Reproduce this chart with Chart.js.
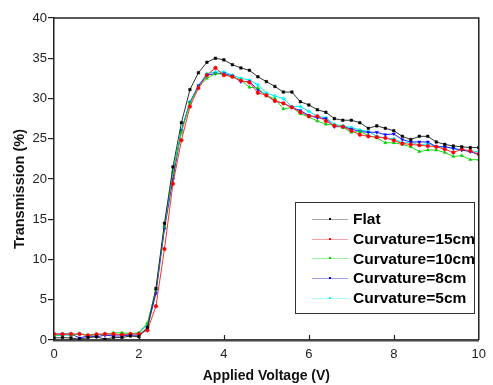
<!DOCTYPE html>
<html>
<head>
<meta charset="utf-8">
<script src="https://cdn.jsdelivr.net/npm/chart.js@4"></script>
<style>
  html, body { margin: 0; padding: 0; background: #fff; }
  #wrap { width: 493px; height: 385px; }
</style>
</head>
<body>
<div id="wrap"><canvas id="transChart" width="493" height="385"></canvas></div>
<script>
const voltage = [0, 0.2, 0.4, 0.6, 0.8, 1.0, 1.2, 1.4, 1.6, 1.8, 2.0, 2.2, 2.4, 2.6, 2.8, 3.0, 3.2, 3.4, 3.6, 3.8,
  4.0, 4.2, 4.4, 4.6, 4.8, 5.0, 5.2, 5.4, 5.6, 5.8, 6.0, 6.2, 6.4, 6.6, 6.8, 7.0, 7.2, 7.4, 7.6, 7.8,
  8.0, 8.2, 8.4, 8.6, 8.8, 9.0, 9.2, 9.4, 9.6, 9.8, 10.0];

const flat = [0.25, 0.3, 0.25, 0.1, 0.3, 0.4, 0.1, 0.3, 0.3, 0.5, 0.4, 1.6, 6.4, 14.5, 21.5, 27.0, 31.1, 33.2, 34.5, 35.0,
  34.8, 34.2, 33.8, 33.5, 32.7, 32.1, 31.5, 30.8, 30.8, 29.6, 29.2, 28.6, 28.3, 27.5, 27.3, 27.3, 27.0, 26.3, 26.6, 26.3,
  26.0, 25.3, 24.9, 25.3, 25.3, 24.6, 24.3, 24.1, 24.0, 23.9, 23.9];

const curv15 = [0.75, 0.7, 0.75, 0.75, 0.55, 0.7, 0.75, 0.75, 0.65, 0.75, 0.75, 1.2, 4.2, 11.3, 19.4, 24.8, 29.0, 31.3, 32.9, 33.8,
  32.9, 32.7, 32.2, 32.0, 30.7, 30.4, 29.7, 29.4, 28.9, 28.3, 27.8, 27.8, 27.2, 26.6, 26.5, 26.0, 25.5, 25.3, 25.2, 25.1,
  24.8, 24.4, 24.3, 24.2, 24.1, 24.0, 23.7, 23.3, 23.7, 23.5, 23.1];

const curv10 = [0.5, 0.8, 0.6, 0.75, 0.6, 0.75, 0.7, 0.9, 0.9, 0.8, 0.9, 2.1, 6.3, 14.2, 20.8, 25.8, 29.4, 31.4, 32.5, 33.1,
  33.0, 32.7, 32.3, 31.4, 31.3, 30.3, 30.0, 28.7, 28.9, 28.1, 27.7, 27.2, 26.8, 26.7, 26.4, 25.8, 25.9, 25.4, 25.1, 24.5,
  24.5, 24.3, 24.0, 23.4, 23.6, 23.6, 23.3, 22.8, 22.9, 22.4, 22.4];

const curv8 = [0.75, 0.75, 0.75, 0.25, 0.5, 0.4, 0.6, 0.5, 0.5, 0.6, 0.6, 1.5, 5.8, 13.8, 20.0, 26.0, 29.5, 31.6, 32.9, 33.1,
  33.1, 32.8, 32.1, 32.1, 31.1, 30.4, 29.7, 29.4, 28.9, 28.5, 27.9, 27.6, 27.5, 26.5, 26.5, 26.2, 25.9, 25.8, 25.8, 25.5,
  25.6, 24.9, 24.6, 24.6, 24.6, 24.0, 24.0, 23.8, 23.6, 23.4, 23.0];

const curv5 = [0.5, 0.6, 0.6, 0.8, 0.6, 0.6, 0.8, 0.65, 0.75, 0.75, 0.8, 2.0, 6.2, 14.0, 21.0, 26.1, 29.6, 31.5, 33.1, 33.3,
  33.3, 32.9, 32.5, 32.3, 31.7, 30.7, 30.3, 30.0, 29.0, 29.0, 28.4, 27.8, 27.6, 26.8, 26.6, 26.4, 26.1, 25.9, 25.3, 25.1,
  25.0, 24.5, 24.6, 24.2, 24.4, 24.0, 24.0, 23.8, 23.6, 23.5, 23.4];

const seriesNames = ['Flat', 'Curvature=15cm', 'Curvature=10cm', 'Curvature=8cm', 'Curvature=5cm'];
const seriesValues = [flat, curv15, curv10, curv8, curv5];
const xTicks = [0, 2, 4, 6, 8, 10];

const lineColors = ['#333333', '#ff3030', '#22dd22', '#2020ff', '#00e0f0'];
const markColors = ['#000000', '#ff0000', '#00cc00', '#0000ff', '#00ffff'];
const legendColors = ['#a8a8a8', '#f4a4a4', '#98ee98', '#9c9cf0', '#a8ffff'];
const markStyles = ['rect', 'circle', 'triangle', 'triangle', 'rectRot'];
const markRot = [0, 0, 0, 180, 0];

const FONT = '"Liberation Sans", Arial, sans-serif';

const frame = {
  id: 'frame',
  afterDraw(chart) {
    const c = chart.ctx;
    const a = chart.chartArea;
    const xs = chart.scales.x;
    c.save();
    // top and right border
    c.strokeStyle = '#222';
    c.lineWidth = 1.5;
    c.beginPath();
    c.moveTo(a.left, a.top);
    c.lineTo(a.right, a.top);
    c.lineTo(a.right, a.bottom);
    c.stroke();
    // inward x ticks
    c.lineWidth = 1.2;
    xTicks.forEach(v => {
      if (v === 0 || v === 10) return;
      const px = Math.round(xs.getPixelForValue(v)) + 0.5;
      c.beginPath();
      c.moveTo(px, a.bottom);
      c.lineTo(px, a.bottom - 5);
      c.stroke();
    });
    // y axis title (sits a little below the plot centre in the original)
    c.save();
    c.translate(20, 189);
    c.rotate(-Math.PI / 2);
    c.font = 'bold 14.5px ' + FONT;
    c.fillStyle = '#111';
    c.textAlign = 'center';
    c.textBaseline = 'middle';
    c.fillText('Transmission (%)', 0, 0);
    c.restore();
    // legend box
    const bx = 295, by = 202, bw = 179, bh = 111;
    c.fillStyle = '#fff';
    c.fillRect(bx, by, bw, bh);
    c.strokeStyle = '#333';
    c.lineWidth = 1;
    c.strokeRect(bx + 0.5, by + 0.5, bw, bh);
    c.font = 'bold 15.5px ' + FONT;
    c.textBaseline = 'middle';
    chart.data.datasets.forEach((ds, i) => {
      const y = 219 + i * 19.7;
      c.strokeStyle = legendColors[i];
      c.lineWidth = 1;
      c.beginPath();
      c.moveTo(312, Math.round(y) + 0.5);
      c.lineTo(348, Math.round(y) + 0.5);
      c.stroke();
      c.fillStyle = markColors[i];
      c.fillRect(329, Math.round(y) - 1, 2, 2);
      c.fillStyle = '#000';
      c.fillText(ds.label, 353, y + 1);
    });
    c.restore();
  }
};

const ctx = document.getElementById('transChart').getContext('2d');

new Chart(ctx, {
  type: 'line',
  data: {
    datasets: seriesNames.map((name, i) => ({
      label: name,
      data: voltage.map((v, j) => ({ x: v, y: seriesValues[i][j] })),
      borderColor: lineColors[i],
      backgroundColor: markColors[i],
      pointBorderColor: markColors[i],
      pointBackgroundColor: markColors[i],
      pointStyle: markStyles[i],
      rotation: markRot[i],
      pointRadius: 1.8,
      pointBorderWidth: 0.5,
      borderWidth: 1,
      tension: 0
    }))
  },
  options: {
    responsive: false,
    animation: false,
    layout: { padding: { top: 18, right: 6, left: 0, bottom: 0 } },
    plugins: {
      legend: { display: false },
      title: { display: false },
      tooltip: { enabled: false }
    },
    scales: {
      x: {
        type: 'linear',
        min: 0,
        max: 10,
        afterFit(s) { s.height = 45; },
        afterBuildTicks(s) { s.ticks = xTicks.map(v => ({ value: v })); },
        grid: { display: false, drawTicks: false },
        border: { display: true, color: '#444', width: 2.5 },
        ticks: {
          padding: 7,
          color: '#222',
          font: { family: FONT, size: 13 },
          maxRotation: 0
        },
        title: {
          display: true,
          text: 'Applied Voltage (V)',
          color: '#111',
          font: { family: FONT, size: 14, weight: 'bold' },
          padding: { top: 6, bottom: 0 }
        }
      },
      y: {
        min: 0,
        max: 40,
        afterFit(s) { s.width = 54; },
        grid: { drawOnChartArea: false, drawTicks: true, tickLength: 6, color: '#222', lineWidth: 1.2 },
        border: { display: true, color: '#222', width: 1.5 },
        ticks: {
          stepSize: 5,
          padding: 1,
          color: '#222',
          font: { family: FONT, size: 13 }
        }
      }
    }
  },
  plugins: [frame]
});
</script>
</body>
</html>
